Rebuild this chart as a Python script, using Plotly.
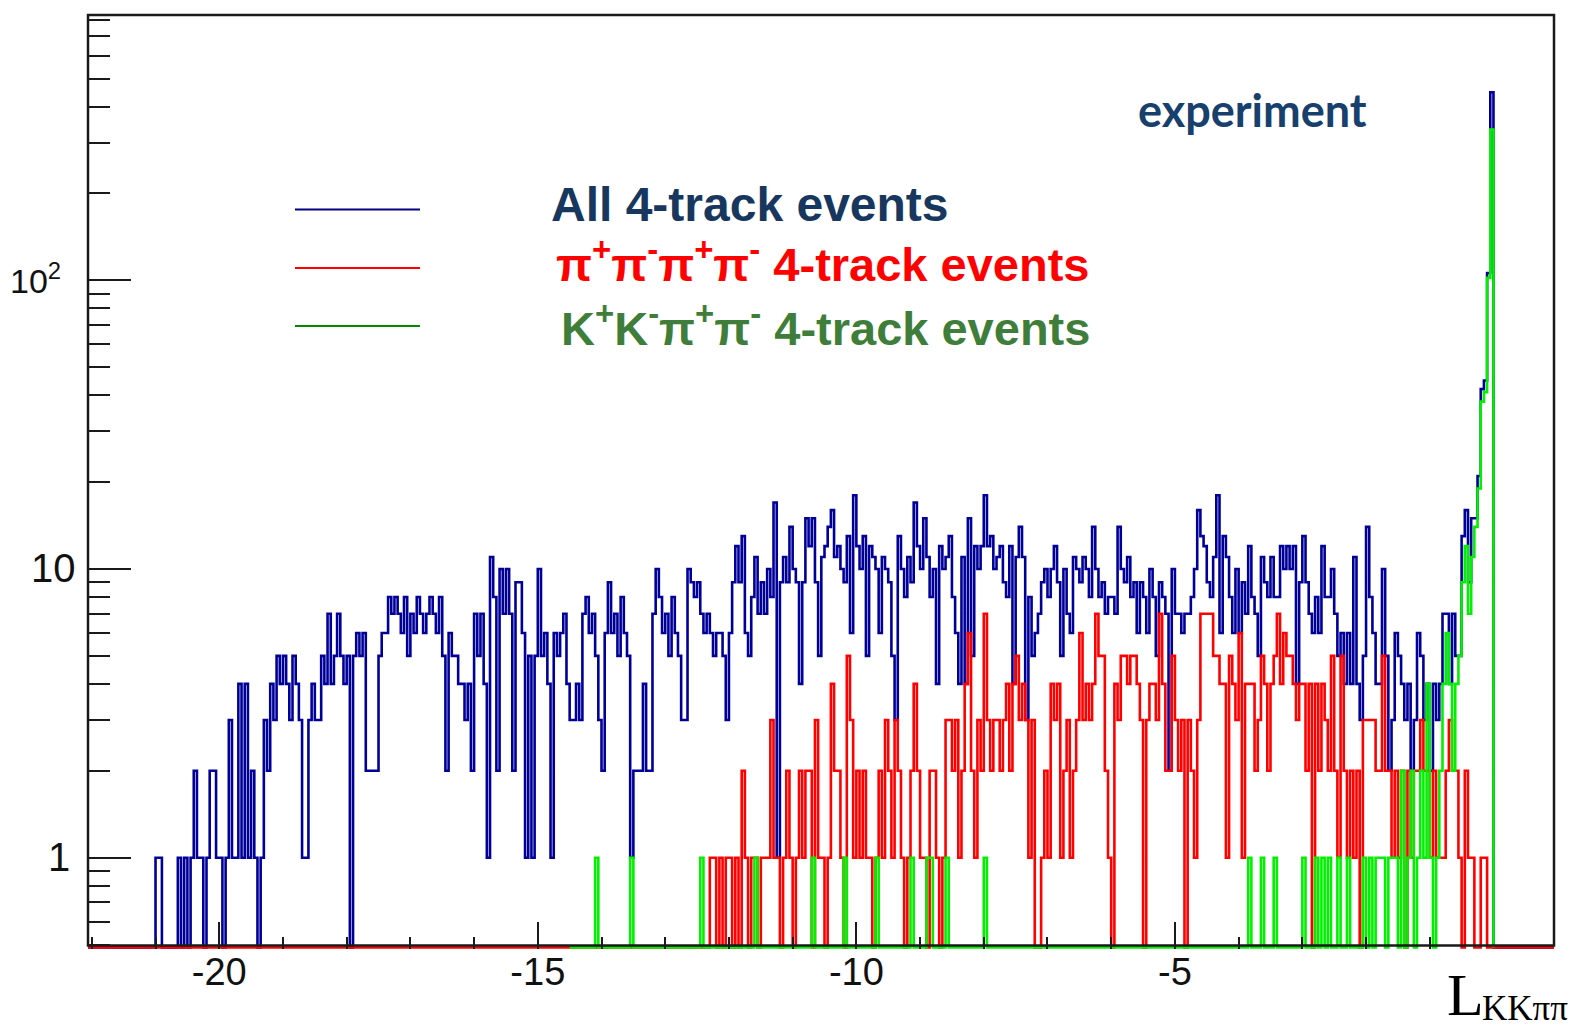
import numpy as np
import plotly.graph_objects as go

# ---------------- histogram contents (bin width 0.05) ----------------
BIN_WIDTH = 0.05

# All 4-track events, bins starting at L = -21.00
ALL_START = -21.0
all_tracks = [
    1, 1, 0, 0, 0, 0, 0, 1, 0, 1, 0, 1, 2, 1, 1, 0, 1, 2, 2, 1,
    1, 0, 1, 3, 1, 1, 4, 1, 4, 1, 2, 1, 0, 1, 3, 2, 4, 3, 5, 4,
    5, 4, 3, 5, 4, 3, 1, 1, 3, 4, 3, 3, 5, 4, 7, 4, 5, 7, 5, 4,
    5, 0, 5, 6, 5, 6, 2, 2, 2, 2, 5, 6, 6, 8, 7, 8, 7, 6, 8, 5,
    7, 6, 8, 7, 6, 7, 8, 7, 6, 8, 5, 2, 6, 5, 5, 4, 4, 3, 4, 2,
    7, 5, 7, 4, 1, 11, 8, 2, 10, 7, 10, 7, 2, 9, 9, 6, 1, 5, 1, 5,
    10, 5, 6, 4, 1, 6, 5, 6, 7, 4, 3, 3, 4, 3, 7, 8, 6, 7, 5, 3,
    2, 6, 9, 6, 7, 5, 8, 6, 5, 1, 2, 2, 2, 4, 2, 2, 7, 10, 8, 6,
    7, 5, 8, 6, 5, 3, 3, 10, 9, 8, 9, 7, 6, 7, 6, 5, 6, 6, 5, 3,
    6, 9, 12, 9, 13, 6, 5, 8, 11, 7, 9, 7, 10, 8, 17, 1, 9, 11, 9, 14,
    10, 9, 4, 9, 15, 12, 15, 9, 5, 11, 12, 14, 16, 11, 12, 10, 9, 13, 6, 18,
    12, 10, 13, 5, 12, 11, 10, 6, 11, 10, 9, 5, 3, 13, 10, 8, 11, 9, 17, 12,
    10, 15, 11, 8, 10, 4, 12, 10, 11, 13, 8, 6, 4, 11, 4, 15, 5, 12, 10, 12,
    18, 12, 13, 10, 11, 12, 9, 8, 12, 4, 11, 14, 11, 3, 8, 5, 6, 7, 9, 10,
    8, 10, 12, 9, 5, 10, 7, 6, 11, 10, 9, 11, 10, 8, 14, 10, 8, 9, 7, 8,
    8, 7, 14, 10, 9, 11, 8, 9, 6, 9, 8, 6, 10, 8, 5, 9, 8, 7, 2, 10,
    7, 7, 6, 7, 7, 8, 10, 16, 13, 12, 9, 8, 11, 18, 6, 13, 11, 8, 6, 10,
    6, 9, 7, 12, 8, 7, 5, 11, 9, 8, 11, 8, 8, 12, 10, 12, 10, 12, 4, 9,
    13, 9, 7, 6, 8, 6, 12, 8, 8, 10, 7, 5, 6, 4, 6, 4, 11, 4, 3, 5,
    14, 8, 6, 4, 4, 10, 5, 2, 3, 6, 5, 4, 3, 4, 2, 3, 6, 5, 3, 4,
    2, 4, 3, 4, 7, 7, 4, 7, 5, 5, 13, 16, 9, 15, 15, 21, 42, 45, 106, 448,
]

# pi+ pi- pi+ pi- events, bins starting at L = -12.40
PIPI_START = -12.4
pipipipi = [
    0, 0, 1, 1, 0, 1, 0, 1, 1, 0, 1, 0, 2, 1, 0, 1, 1, 0, 1, 1,
    1, 3, 1, 1, 0, 1, 2, 1, 0, 1, 2, 1, 2, 2, 0, 3, 1, 1, 0, 1,
    4, 2, 2, 1, 0, 5, 3, 1, 2, 1, 2, 1, 1, 0, 1, 2, 1, 3, 2, 1,
    3, 2, 1, 0, 1, 2, 4, 2, 1, 1, 0, 2, 2, 1, 0, 1, 3, 3, 2, 3,
    1, 2, 4, 6, 2, 1, 3, 2, 7, 3, 2, 3, 3, 2, 3, 4, 2, 4, 5, 3,
    4, 3, 1, 3, 0, 0, 1, 2, 1, 4, 3, 4, 1, 2, 3, 1, 2, 3, 6, 3,
    4, 3, 4, 7, 5, 5, 2, 1, 0, 4, 3, 5, 5, 4, 5, 5, 4, 3, 0, 3,
    4, 4, 3, 7, 4, 2, 2, 5, 3, 2, 3, 0, 3, 2, 1, 3, 7, 7, 7, 7,
    5, 5, 4, 4, 1, 5, 4, 3, 6, 1, 4, 4, 4, 2, 3, 5, 4, 2, 4, 5,
    7, 4, 6, 5, 5, 4, 3, 4, 4, 2, 4, 0, 4, 2, 4, 3, 2, 5, 2, 1,
    5, 2, 1, 2, 1, 2, 0, 3, 3, 3, 3, 2, 2, 5, 2, 2, 1, 2, 1, 2,
    0, 2, 1, 2, 2, 3, 2, 2, 1, 2, 1, 1, 1, 2, 3, 2, 2, 1, 0, 2,
    1, 1, 0, 0, 1, 1, 0, 0,
]

# K+ K- pi+ pi- events, bins starting at L = -14.50
KKPP_START = -14.5
kkpipi = [
    0, 0, 0, 0, 0, 0, 0, 0, 1, 0, 0, 0, 0, 0, 0, 0, 0, 0, 0, 1,
    0, 0, 0, 0, 0, 0, 0, 0, 0, 0, 0, 0, 0, 0, 0, 0, 0, 0, 0, 0,
    0, 1, 0, 0, 0, 0, 0, 0, 0, 0, 0, 0, 0, 0, 0, 0, 0, 0, 1, 0,
    0, 0, 0, 0, 0, 0, 0, 0, 0, 0, 0, 0, 0, 0, 0, 0, 1, 0, 0, 0,
    0, 0, 0, 0, 0, 0, 1, 0, 0, 0, 0, 0, 0, 0, 0, 0, 1, 0, 0, 0,
    0, 0, 0, 0, 0, 0, 0, 1, 0, 0, 0, 0, 1, 1, 0, 0, 0, 0, 1, 0,
    0, 0, 0, 0, 0, 0, 0, 0, 0, 0, 1, 0, 0, 0, 0, 0, 0, 0, 0, 0,
    0, 0, 0, 0, 0, 0, 0, 0, 0, 0, 0, 0, 0, 0, 0, 0, 0, 0, 0, 0,
    0, 0, 0, 0, 0, 0, 0, 0, 0, 0, 0, 0, 0, 0, 0, 0, 0, 0, 0, 0,
    0, 0, 0, 0, 0, 0, 0, 0, 0, 0, 0, 0, 0, 0, 0, 0, 0, 0, 0, 0,
    0, 0, 0, 0, 0, 0, 0, 0, 0, 0, 0, 0, 0, 1, 0, 0, 0, 1, 0, 0,
    0, 1, 0, 0, 0, 0, 0, 0, 0, 0, 1, 0, 0, 0, 1, 0, 1, 0, 1, 0,
    0, 1, 0, 0, 1, 0, 0, 0, 0, 1, 0, 1, 0, 1, 1, 1, 0, 1, 1, 1,
    0, 2, 0, 1, 2, 0, 1, 2, 1, 4, 1, 0, 1, 2, 4, 6, 4, 2, 4, 5,
    9, 12, 7, 11, 14, 19, 38, 41, 102, 333,
]

# axis ticks and labels
X_MAJOR = [-20, -15, -10, -5]
X_MAJOR_TEXT = ["-20", "-15", "-10", "-5"]
Y_MAJOR = [1, 10, 100]

# ---------------- page geometry (pixels) ----------------
W, H = 1579, 1029
PLOT_L, PLOT_R, PLOT_T, PLOT_B = 88, 1554, 15, 949
X_RANGE = [-22.06, 0.95]
Y_LOG_RANGE = [-0.3162, 2.919]
Y_FLOOR = 10 ** -0.311          # empty bins are drawn on the bottom edge

COL_ALL = "#000099"
COL_PIPI = "#ff0000"
COL_KKPP = "#00f000"
HIST_WIDTH = 2.6


def px_x(p):
    return (p - PLOT_L) / (PLOT_R - PLOT_L)


def px_y(p):
    return (PLOT_B - p) / (PLOT_B - PLOT_T)


def step_outline(start, counts, x_lo, x_hi):
    """Outline of a ROOT-style histogram as an 'hv' step path."""
    counts = np.asarray(counts, dtype=float)
    edges = start + BIN_WIDTH * np.arange(len(counts) + 1)
    levels = np.where(counts > 0, counts, Y_FLOOR)
    xs = np.concatenate([[x_lo], edges, [x_hi]])
    ys = np.concatenate([[Y_FLOOR], levels, [Y_FLOOR, Y_FLOOR]])
    return xs, ys


fig = go.Figure()
for start, counts, x_lo, x_hi, col in [
    (ALL_START, all_tracks, X_RANGE[0], X_RANGE[1], COL_ALL),
    (PIPI_START, pipipipi, X_RANGE[0], X_RANGE[1], COL_PIPI),
    (KKPP_START, kkpipi, KKPP_START, 0.0, COL_KKPP),
]:
    xs, ys = step_outline(start, counts, x_lo, x_hi)
    fig.add_trace(go.Scatter(
        x=xs, y=ys, mode="lines",
        line=dict(color=col, width=HIST_WIDTH, shape="hv"),
        hoverinfo="skip", showlegend=False,
    ))

shapes = []
# frame box
shapes.append(dict(type="rect", xref="paper", yref="paper",
                   x0=0, x1=1, y0=px_y(945.5), y1=1,
                   line=dict(color="#1a1a1a", width=2.5), layer="above"))
# legend line samples
for py, col in [(209.5, "#000080"), (268, "#ff0000"), (326, "#008a00")]:
    shapes.append(dict(type="line", xref="paper", yref="paper",
                       x0=px_x(295), x1=px_x(420), y0=px_y(py), y1=px_y(py),
                       line=dict(color=col, width=2)))

SANS = "Liberation Sans, Arial, sans-serif"
SERIF = "Liberation Serif, Times New Roman, serif"
annotations = [
    dict(text="<b>All 4-track events</b>", x=px_x(550), y=px_y(205),
         font=dict(family=SANS, size=48, color="#17375e")),
    dict(text="<b>π<sup>+</sup>π<sup>-</sup>π<sup>+</sup>π<sup>-</sup> 4-track events</b>",
         x=px_x(555), y=px_y(261),
         font=dict(family=SANS, size=47, color="#ff0000")),
    dict(text="<b>K<sup>+</sup>K<sup>-</sup>π<sup>+</sup>π<sup>-</sup> 4-track events</b>",
         x=px_x(560), y=px_y(325),
         font=dict(family=SANS, size=47, color="#3f7e3a")),
    dict(text="<b>experiment</b>", x=px_x(1252), y=px_y(110), xanchor="center",
         font=dict(family="Lato, Open Sans, sans-serif", size=45, color="#17406d")),
    # axis title  L_KKpipi
    dict(text="L", x=px_x(1446), y=px_y(995),
         font=dict(family=SERIF, size=60, color="black")),
    dict(text="KKππ", x=px_x(1481), y=px_y(1008),
         font=dict(family=SERIF, size=35, color="black")),
    # y-axis tick labels
    dict(text="1", x=px_x(71), y=px_y(857), xanchor="right",
         font=dict(family=SANS, size=40, color="#111111")),
    dict(text="10", x=px_x(77), y=px_y(568), xanchor="right",
         font=dict(family=SANS, size=40, color="#111111")),
    dict(text="10<sup>2</sup>", x=px_x(62), y=px_y(278), xanchor="right",
         font=dict(family=SANS, size=34, color="#111111")),
]
for a in annotations:
    a.setdefault("xanchor", "left")
    a.update(xref="paper", yref="paper", yanchor="middle", showarrow=False, borderpad=0)

x_minor = [v for v in range(-22, 0) if v not in X_MAJOR]
y_minor = ([0.5, 0.6, 0.7, 0.8, 0.9] + list(range(2, 10)) +
           list(range(20, 100, 10)) + list(range(200, 900, 100)))

fig.update_layout(
    width=W, height=H,
    margin=dict(l=PLOT_L, r=W - PLOT_R, t=PLOT_T, b=H - PLOT_B),
    paper_bgcolor="white", plot_bgcolor="white",
    shapes=shapes, annotations=annotations,
    xaxis=dict(
        range=X_RANGE, showgrid=False, zeroline=False, showline=False,
        tickmode="array", tickvals=X_MAJOR, ticktext=X_MAJOR_TEXT,
        ticks="inside", ticklen=27, tickwidth=2, tickcolor="#1a1a1a",
        minor=dict(tickmode="array", tickvals=x_minor, ticks="inside",
                   ticklen=12, tickwidth=2, tickcolor="#1a1a1a", showgrid=False),
        tickfont=dict(family=SANS, size=38, color="#111111"),
        ticklabelstandoff=-3,
    ),
    yaxis=dict(
        type="log", range=Y_LOG_RANGE, showgrid=False, zeroline=False, showline=False,
        tickmode="array", tickvals=Y_MAJOR, showticklabels=False,
        ticks="inside", ticklen=43, tickwidth=2, tickcolor="#1a1a1a",
        minor=dict(tickmode="array", tickvals=y_minor, ticks="inside",
                   ticklen=22, tickwidth=2, tickcolor="#1a1a1a", showgrid=False),
    ),
)

fig.write_html("out.html")
